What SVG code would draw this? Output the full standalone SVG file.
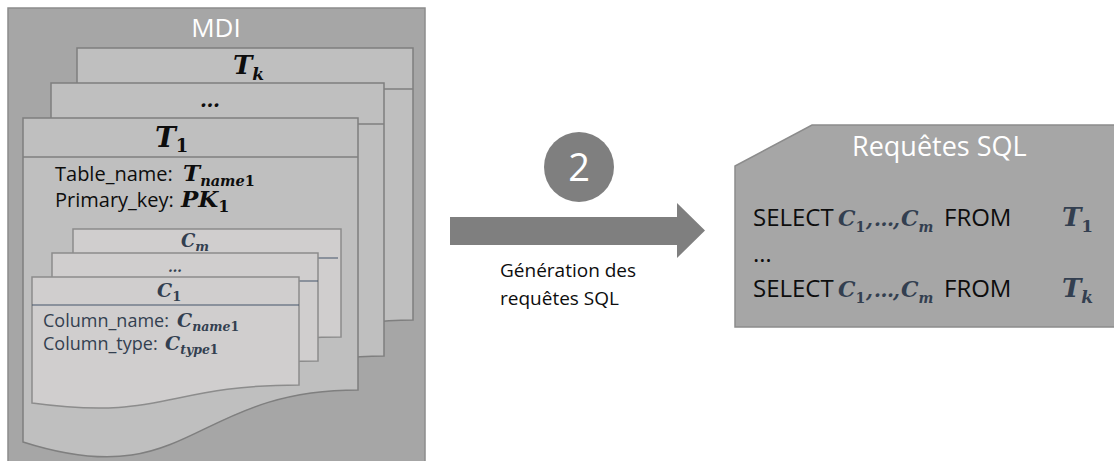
<svg xmlns="http://www.w3.org/2000/svg" width="1114" height="461" viewBox="0 0 1114 461">
<style>
.sans{font-family:"Open Sans","Liberation Sans",sans-serif}
.math{font-family:"DejaVu Serif","Liberation Serif",serif;font-weight:bold;font-style:italic}
.up{font-style:normal}
.tpage{fill:#bfbfbf;stroke:#7f7f7f;stroke-width:1.5}
.cpage{fill:#d0cece;stroke:#8c8c8c;stroke-width:1.5}
.tline{stroke:#7f7f7f;stroke-width:1.5}
.cline{stroke:#44546a;stroke-width:1.2}
.dark{fill:#0d0d0d}
.slate{fill:#333f50}
</style>
<g id="mdi">
<rect x="8" y="8" width="417" height="460" fill="#a6a6a6" stroke="#8c8c8c" stroke-width="1.5"/>
<text class="sans" x="216" y="37" font-size="26" fill="#ffffff" text-anchor="middle">MDI</text>
</g>
<g id="table-k">
<path class="tpage" d="M77,48 H413 V320 C245,320 245,420 77,372 Z"/>
<line class="tline" x1="77" y1="89" x2="413" y2="89"/>
<text class="math dark" x="233" y="74" font-size="26">T<tspan font-size="17" dy="6">k</tspan></text>
</g>
<g id="table-dots">
<path class="tpage" d="M51,83 H384 V356 C217,356 217,456 51,408 Z"/>
<line class="tline" x1="51" y1="124" x2="384" y2="124"/>
<text class="math dark" x="210" y="107" font-size="20" text-anchor="middle">…</text>
</g>
<g id="table-1">
<path class="tpage" d="M23,118 H358 V390 C190,390 190,495 23,442 Z"/>
<line class="tline" x1="23" y1="157" x2="358" y2="157"/>
<text class="math dark" x="155" y="147" font-size="28">T<tspan class="up" font-size="18" dy="5">1</tspan></text>
<text class="sans dark" x="55" y="181" font-size="20">Table_name:</text>
<text class="math dark" x="183" y="181" font-size="23">T<tspan font-size="14.5" dy="5">name</tspan><tspan class="up" font-size="14.5">1</tspan></text>
<text class="sans dark" x="55" y="207" font-size="20">Primary_key:</text>
<text class="math dark" x="181" y="207" font-size="23">PK<tspan class="up" font-size="16" dy="5">1</tspan></text>
</g>
<g id="column-m">
<path class="cpage" d="M73,229 H341 V337 C207,337 207,380 73,360 Z"/>
<line class="cline" x1="73" y1="258" x2="338" y2="258"/>
<text class="math slate" x="181" y="247" font-size="18">C<tspan font-size="13" dy="4">m</tspan></text>
</g>
<g id="column-dots">
<path class="cpage" d="M52,253 H318 V361 C185,361 185,404 52,384 Z"/>
<line class="cline" x1="52" y1="281" x2="318" y2="281"/>
<text class="math slate" x="175" y="272" font-size="14" text-anchor="middle">…</text>
</g>
<g id="column-1">
<path class="cpage" d="M32,277 H299 V385 C165,385 165,421 32,403 Z"/>
<line class="cline" x1="32" y1="305" x2="299" y2="305"/>
<text class="math slate" x="157" y="297" font-size="19">C<tspan class="up" font-size="13" dy="4">1</tspan></text>
<text class="sans slate" x="43" y="327" font-size="18">Column_name:</text>
<text class="math slate" x="177" y="327" font-size="19">C<tspan font-size="12.5" dy="4">name</tspan><tspan class="up" font-size="12.5">1</tspan></text>
<text class="sans slate" x="43" y="350" font-size="18">Column_type:</text>
<text class="math slate" x="165" y="350" font-size="19">C<tspan font-size="12.5" dy="4">type</tspan><tspan class="up" font-size="12.5">1</tspan></text>
</g>
<g id="connectors">
<polygon points="450,217 677,217 677,203 705,230.5 677,258 677,245 450,245" fill="#7f7f7f"/>
</g>
<g id="step-2">
<circle cx="579" cy="167" r="35" fill="#7f7f7f"/>
<text class="sans" x="579" y="181" font-size="38" fill="#ffffff" text-anchor="middle">2</text>
</g>
<g id="arrow-label">
<text class="sans" x="500" y="277" font-size="19" fill="#0d0d0d">Génération des</text>
<text class="sans" x="500" y="305" font-size="19" fill="#0d0d0d">requêtes SQL</text>
</g>
<g id="sql">
<path d="M812,125 H1120 V327 H735 V166 Z" fill="#a6a6a6" stroke="#8c8c8c" stroke-width="1.5"/>
<text class="sans" x="852" y="156" font-size="27" fill="#ffffff">Requêtes SQL</text>
<text class="sans" x="753" y="226" font-size="24" fill="#0d0d0d">SELECT</text>
<text class="math slate" x="838" y="226" font-size="22">C<tspan class="up" font-size="14" dy="6">1</tspan></text>
<text class="math slate" x="866" y="226" font-size="20" font-family="Liberation Serif">,</text>
<text class="math slate" x="874" y="226" font-size="20" font-family="Liberation Serif">…</text>
<text class="math slate" x="893" y="226" font-size="20" font-family="Liberation Serif">,</text>
<text class="math slate" x="901" y="226" font-size="22">C<tspan font-size="14" dy="6">m</tspan></text>
<text class="sans" x="944" y="226" font-size="24" fill="#0d0d0d">FROM</text>
<text class="math slate" x="1062" y="226" font-size="26">T<tspan class="up" font-size="17" dy="6">1</tspan></text>
<text class="sans" x="753" y="262" font-size="24" fill="#0d0d0d">…</text>
<text class="sans" x="753" y="297" font-size="24" fill="#0d0d0d">SELECT</text>
<text class="math slate" x="838" y="297" font-size="22">C<tspan class="up" font-size="14" dy="6">1</tspan></text>
<text class="math slate" x="866" y="297" font-size="20" font-family="Liberation Serif">,</text>
<text class="math slate" x="874" y="297" font-size="20" font-family="Liberation Serif">…</text>
<text class="math slate" x="893" y="297" font-size="20" font-family="Liberation Serif">,</text>
<text class="math slate" x="901" y="297" font-size="22">C<tspan font-size="14" dy="6">m</tspan></text>
<text class="sans" x="944" y="297" font-size="24" fill="#0d0d0d">FROM</text>
<text class="math slate" x="1062" y="297" font-size="26">T<tspan font-size="17" dy="6">k</tspan></text>
</g>
</svg>
